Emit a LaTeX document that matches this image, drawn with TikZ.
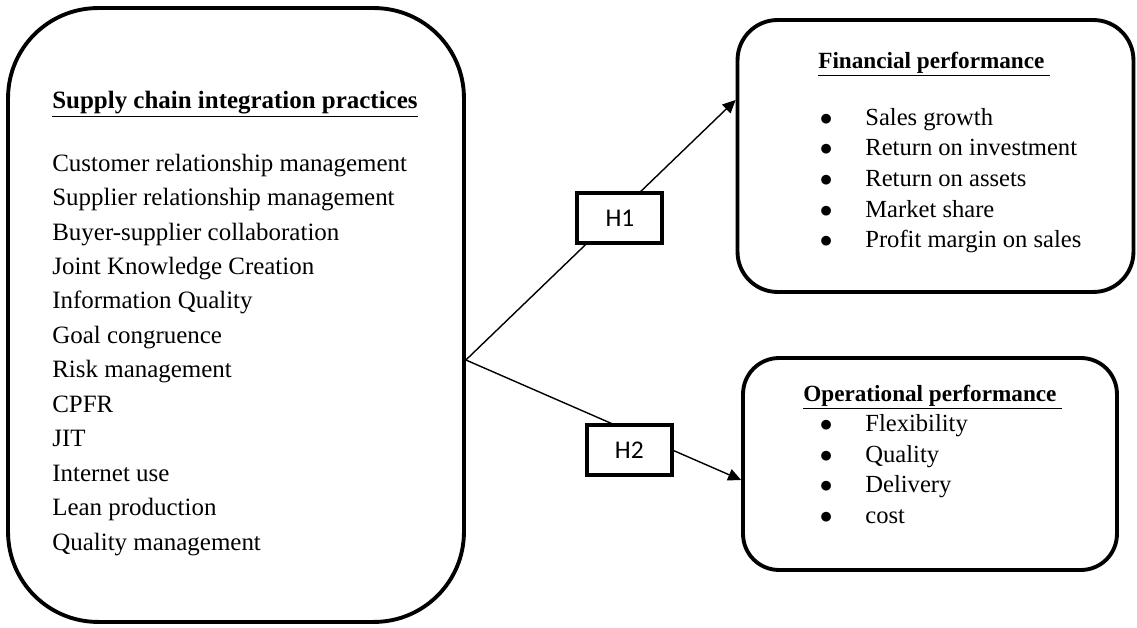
\documentclass[tikz,border=0pt]{standalone}
\usepackage{fontspec}
\setmainfont{Liberation Serif}
\newfontfamily\hypfont{Carlito}
\usetikzlibrary{arrows.meta}

\newcommand{\bul}[2]{\makebox[#2][l]{\hspace*{#1}$\bullet$}}

\begin{document}
\begin{tikzpicture}[
    x=0.02cm, y=-0.02cm,
    block/.style={rectangle, draw, line width=2.2pt, rounded corners=#1},
    block/.default=0.8cm,
    hyp/.style={rectangle, draw, fill=white, line width=2.2pt, inner sep=0pt, minimum width=1.7cm, minimum height=1cm, font=\hypfont\fontsize{14.5}{17}\selectfont},
    listing/.style={anchor=base west, align=left, inner sep=0pt},
    arrow/.style={line width=0.8pt, -{Triangle[length=0.26cm, width=0.24cm]}}
]
    \useasboundingbox (0,0) rectangle (1137,628);

    % Boxes
    \node [block=1.8cm, minimum width=9.12cm, minimum height=12.28cm] (sci) at (236,315) {};
    \node [block, minimum width=7.92cm, minimum height=5.44cm] (fin) at (935.5,156) {};
    \node [block=0.72cm, minimum width=7.48cm, minimum height=4.24cm] (op) at (930,464) {};

    % Box texts (placed by the baseline of their last line)
    \node [listing, font=\fontsize{14.2}{19.6}\selectfont] (scitext) at (52,550) {%
        \underline{\textbf{Supply chain integration practices}}\\[0.57cm]
        Customer relationship management\\
        Supplier relationship management\\
        Buyer-supplier collaboration\\
        Joint Knowledge Creation\\
        Information Quality\\
        Goal congruence\\
        Risk management\\
        CPFR\\
        JIT\\
        Internet use\\
        Lean production\\
        Quality management};
    \node [listing, font=\fontsize{14}{17.5}\selectfont] (fintext) at (818,248) {%
        {\fontsize{13.2}{17.5}\selectfont\bfseries\underline{Financial performance\ }}\\[0.52cm]
        \bul{0.03cm}{0.94cm}Sales growth\\
        \bul{0.03cm}{0.94cm}Return on investment\\
        \bul{0.03cm}{0.94cm}Return on assets\\
        \bul{0.03cm}{0.94cm}Market share\\
        \bul{0.03cm}{0.94cm}Profit margin on sales};
    \node [listing, font=\fontsize{14}{17.3}\selectfont] (optext) at (803,523) {%
        {\fontsize{13.2}{17.3}\selectfont\bfseries\underline{Operational performance\ }}\\
        \bul{0.33cm}{1.24cm}Flexibility\\
        \bul{0.33cm}{1.24cm}Quality\\
        \bul{0.33cm}{1.24cm}Delivery\\
        \bul{0.33cm}{1.24cm}cost};

    % Hypotheses
    \coordinate (hub) at ([yshift=-0.9cm]sci.east);
    \draw [arrow] (hub) -- node [hyp, pos=0.571, yshift=-0.13cm] (h1) {H1} ([yshift=1.12cm]fin.west);
    \draw [arrow] (hub) -- node [hyp, pos=0.594, yshift=-0.37cm] (h2) {H2} ([yshift=-0.32cm]op.west);
\end{tikzpicture}
\end{document}
